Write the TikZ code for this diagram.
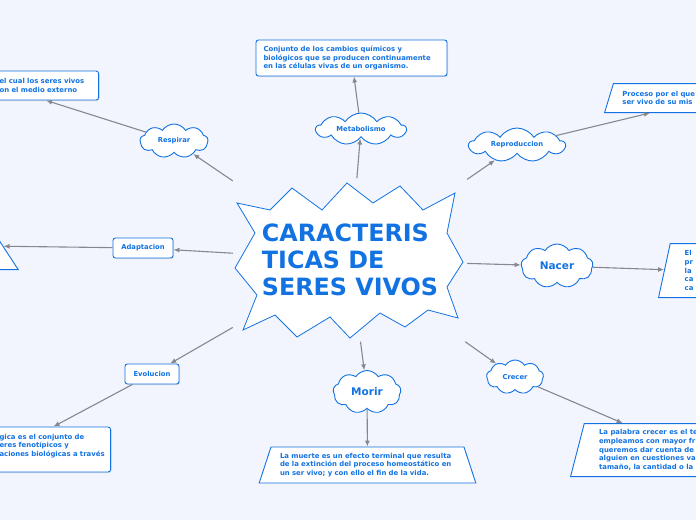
\documentclass[tikz,border=0pt]{standalone}
\usepackage{fontspec}
\setmainfont{DejaVu Sans}
\usetikzlibrary{shapes.symbols,shapes.geometric,arrows.meta,shadows,calc}

\definecolor{bgcol}{RGB}{242,245,254}
\definecolor{mapblue}{RGB}{18,114,226}
\definecolor{linegray}{RGB}{134,136,142}

\tikzset{
	cloudnode/.style={cloud, cloud puffs=9, cloud puff arc=115, cloud ignores aspect, draw=mapblue, fill=white, line width=0.9pt, inner sep=0pt, text=mapblue, font=\bfseries\fontsize{6.8}{8}\selectfont},
	bignode/.style={cloudnode, font=\bfseries\fontsize{10.5}{12}\selectfont},
	boxnode/.style={draw=mapblue, fill=white, rounded corners=2.5pt, line width=0.9pt, text=mapblue, font=\bfseries\fontsize{6.8}{8}\selectfont, drop shadow={opacity=0.2, shadow xshift=1pt, shadow yshift=-1pt}},
	leafbox/.style={boxnode, align=left, font=\bfseries\fontsize{6.9}{8.7}\selectfont},
	leaftrap/.style={trapezium, trapezium stretches=true, draw=mapblue, fill=white, line width=0.9pt, text=mapblue, align=left, font=\bfseries\fontsize{6.9}{8.7}\selectfont},
	arr/.style={draw=linegray, line width=1.1pt, -{Latex[length=6pt,width=5pt]}}
}

\begin{document}
\begin{tikzpicture}[x=1pt, y=-1pt]
	\fill[bgcol] (0,0) rectangle (696,520);
	\clip (0,0) rectangle (696,520);

	\draw[mapblue, fill=white, line width=0.8pt] (237,203) -- (270,210) -- (292,188) -- (322,210) -- (347,183) -- (373,203) -- (400,186) -- (423,210) -- (455,193) -- (447,233) -- (463,262) -- (447,287) -- (458,318) -- (428,310) -- (405,327) -- (380,313) -- (350,338) -- (330,317) -- (297,337) -- (275,315) -- (243,330) -- (257,295) -- (235,268) -- (255,233) -- cycle;
	\node[minimum width=234, minimum height=163, align=left, text=mapblue, font=\bfseries\fontsize{23.8}{27}\selectfont] (main) at (350,260) {CARACTERIS\\TICAS DE\\SERES VIVOS};

	\node[cloudnode, minimum width=68, minimum height=34] (c1) at (174,141) {Respirar};
	\node[cloudnode, minimum width=90, minimum height=32] (c2) at (361,129) {Metabolismo};
	\node[cloudnode, minimum width=96, minimum height=34] (c3) at (517,145) {Reproduccion};
	\node[boxnode, minimum width=60, minimum height=20] (c4) at (143,248) {Adaptacion};
	\node[bignode, minimum width=72, minimum height=44] (c5) at (557,266) {Nacer};
	\node[boxnode, minimum width=54, minimum height=20] (c6) at (152,374) {Evolucion};
	\node[bignode, minimum width=68, minimum height=43] (c7) at (367,392) {Morir};
	\node[cloudnode, minimum width=57, minimum height=34] (c8) at (515,377) {Crecer};

	\node[leafbox, text width=93, inner xsep=6, minimum height=29, anchor=east] (d1) at (99,85.5) {el cual los seres vivos\\on el medio externo};
	\node[leafbox, text width=108, inner xsep=3, minimum height=45, anchor=east] (d2) at (111,449.5) {gica es el conjunto de\\eres fenotípicos y\\aciones biológicas a través\\~};
	\node[leafbox, text width=176, inner xsep=7.5, minimum height=36] (d3) at (351.5,58) {Conjunto de los cambios químicos y\\biológicos que se producen continuamente\\en las células vivas de un organismo.};
	\node[leaftrap, trapezium left angle=67, trapezium right angle=67, inner xsep=9, minimum height=29, anchor=bottom left corner] (d4) at (604,113) {Proceso por el que\\ser vivo de su mis};
	\node[leaftrap, trapezium left angle=76, trapezium right angle=76, inner xsep=14.5, minimum height=54, anchor=bottom left corner] (d5) at (658,298) {El\\pr\\la\\ca\\ca};
	\node[leaftrap, trapezium left angle=74, trapezium right angle=74, inner xsep=14.8, minimum height=53, anchor=bottom left corner] (d6) at (570,477) {La palabra crecer es el te\\empleamos con mayor fr\\queremos dar cuenta de\\alguien en cuestiones va\\tamaño, la cantidad o la};
	\node[leaftrap, trapezium left angle=69, trapezium right angle=69, text width=175, inner xsep=9, minimum height=36] (d7) at (367.5,465) {La muerte es un efecto terminal que resulta\\de la extinción del proceso homeostático en\\un ser vivo; y con ello el fin de la vida.};
	\node[leaftrap, trapezium left angle=68, trapezium right angle=68, minimum width=140, minimum height=48, anchor=bottom right corner] (d8) at (19,270) {};

	\draw[arr] (main) -- (c1);
	\draw[arr] (main) -- (c2);
	\draw[arr] (main) -- (c3);
	\draw[arr] (main) -- (c4);
	\draw[arr] (main) -- (c5);
	\draw[arr] (main) -- (c6);
	\draw[arr] (main) -- (c7);
	\draw[arr] (main) -- (c8);

	\draw[arr] (c1) -- (d1.south);
	\draw[arr] (c2) -- (d3);
	\draw[arr] (c3) -- ($(d4.bottom left corner)!0.42!(d4.bottom right corner)$);
	\draw[arr] (c4) -- (d8);
	\draw[arr] (c5) -- (d5);
	\draw[arr] (c6) -- (d2.north);
	\draw[arr] (c7) -- (d7);
	\draw[arr] (c8) -- ($(d6.top left corner)!0.3!(d6.top right corner)$);
\end{tikzpicture}
\end{document}
